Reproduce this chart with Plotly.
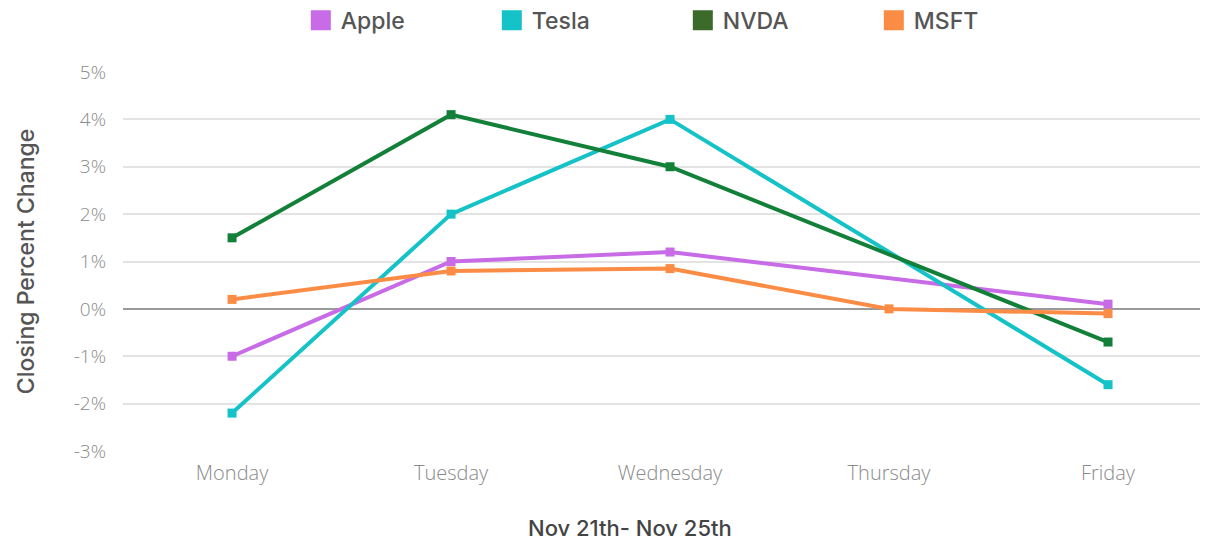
import plotly.graph_objects as go

days = ["Monday", "Tuesday", "Wednesday", "Thursday", "Friday"]
apple = [-1.0, 1.0, 1.2, None, 0.1]
tesla = [-2.2, 2.0, 4.0, None, -1.6]
nvda = [1.5, 4.1, 3.0, None, -0.7]
msft = [0.2, 0.8, 0.85, 0.0, -0.1]

series = [
    ("Apple", apple, "#c86be6", "#c86be6"),
    ("Tesla", tesla, "#14c2c8", "#14c2c8"),
    ("NVDA", nvda, "#13803a", "#3b6a2b"),
    ("MSFT", msft, "#fb8c45", "#fb8c45"),
]
y_ticks = [-3, -2, -1, 0, 1, 2, 3, 4, 5]
y_labels = [f"{v}%" for v in y_ticks]

fig = go.Figure()
xs = list(range(len(days)))
for name, vals, col, legcol in series:
    fig.add_trace(go.Scatter(
        x=xs, y=vals, mode="lines+markers", name=name, showlegend=False,
        connectgaps=True,
        line=dict(color=col, width=4),
        marker=dict(symbol="square", size=9, color=col),
    ))
for name, vals, col, legcol in series:
    fig.add_trace(go.Scatter(
        x=[None], y=[None], mode="markers", name=name, showlegend=True,
        marker=dict(symbol="square", size=22, color=legcol,
                    line=dict(color=legcol, width=4)),
    ))

# page body has an 8px default margin; figure sized to fit the window
W, H = 1205, 536
L, R, T, B = 115, 13, 64, 93
fig.update_layout(
    width=W, height=H,
    margin=dict(l=L, r=R, t=T, b=B, autoexpand=False),
    plot_bgcolor="white", paper_bgcolor="white",
    font=dict(family="Open Sans", color="#555"),
    legend=dict(
        orientation="h", xref="container", x=0.243, xanchor="left",
        yref="container", y=0.977, yanchor="middle",
        entrywidth=146, entrywidthmode="pixels",
        font=dict(family="Inter", size=23, color="#555", weight=500),
        itemsizing="trace",
    ),
    xaxis=dict(
        tickmode="array", tickvals=xs, ticktext=days,
        range=[-0.498, 4.42], showgrid=False, zeroline=False,
        tickfont=dict(family="Open Sans", size=20, color="#8a8a8a", weight=300),
        ticks="", ticklabelstandoff=8, automargin=False,
    ),
    yaxis=dict(
        range=[-3, 5], tickmode="array", tickvals=y_ticks, ticktext=y_labels,
        showgrid=True, gridcolor="#e3e3e3", gridwidth=1.5,
        zeroline=True, zerolinecolor="#9a9a9a", zerolinewidth=1.5,
        tickfont=dict(family="Open Sans", size=19, color="#8a8a8a", weight=300),
        ticklabelstandoff=16, automargin=False,
        title=dict(text="Closing Percent Change", standoff=32,
                   font=dict(family="Inter", size=23, color="#555", weight=500)),
    ),
)
fig.add_annotation(
    text="Nov 21th- Nov 25th", xref="paper", yref="paper",
    x=0.4708, y=-0.203, xanchor="center", yanchor="middle",
    showarrow=False, font=dict(family="Inter", size=22, color="#444", weight=500),
)
fig.write_html("out.html")
